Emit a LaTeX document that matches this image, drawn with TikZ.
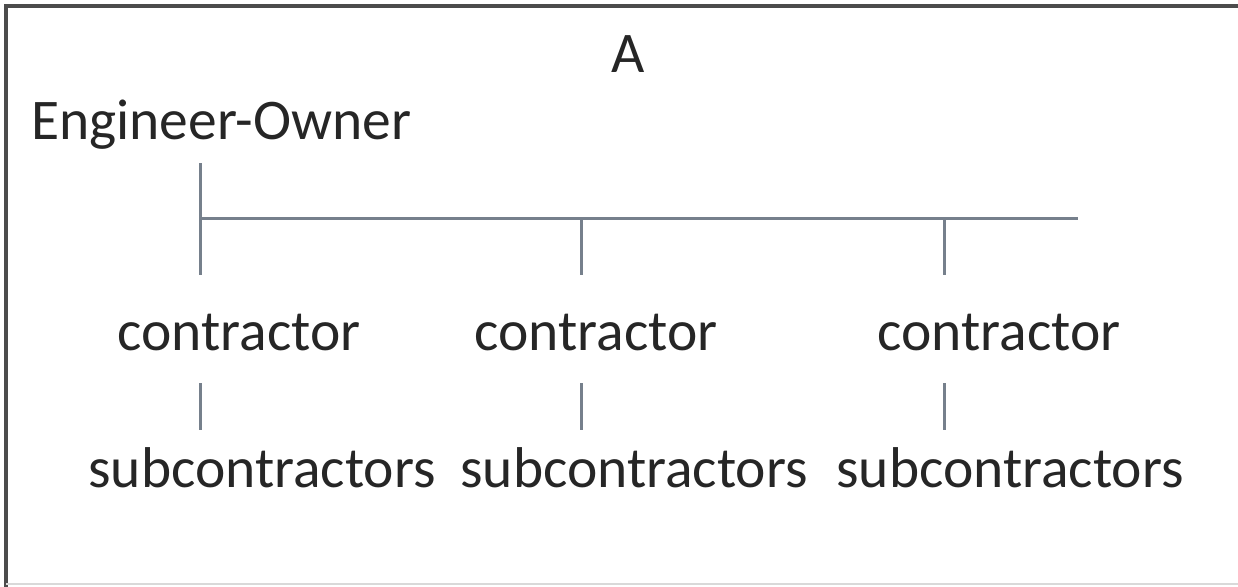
\documentclass[tikz,border=0pt]{standalone}
\usepackage{fontspec}
\setmainfont{Carlito}
\definecolor{linkgray}{RGB}{118,128,140}
\begin{document}
\begin{tikzpicture}[x=1pt,y=-1pt,
  lbl/.style={inner sep=0pt,anchor=base,text=black!85,font=\fontsize{57.5}{62}\selectfont},
  link/.style={draw=linkgray,line width=3pt}]
\useasboundingbox (0,0) rectangle (1238,586);
\draw[black!70,line width=3.5pt] (1245,6) -- (6,6) -- (6,590);
\draw[black!15,line width=2pt] (6,584) -- (1245,584);
% texts
\node[lbl] (A) at (628,72) {A};
\node[lbl,anchor=base west] (eo) at (31,139) {Engineer-Owner};
\node[lbl] (c1) at (239,350) {contractor};
\node[lbl] (c2) at (596,350) {contractor};
\node[lbl] (c3) at (999,350) {contractor};
\node[lbl] (s1) at (262,487) {subcontractors};
\node[lbl] (s2) at (634,487) {subcontractors};
\node[lbl] (s3) at (1010,487) {subcontractors};
% connector points
\coordinate (t0) at (200,163);
\coordinate (j1) at (200,218);
\coordinate (j2) at (581,218);
\coordinate (j3) at (944,218);
\coordinate (hend) at (1078,218);
\coordinate (b1) at (200,275);
\coordinate (b2) at (581,275);
\coordinate (b3) at (944,275);
\coordinate (u1) at (200,383);
\coordinate (u2) at (581,383);
\coordinate (u3) at (944,383);
\coordinate (l1) at (200,430);
\coordinate (l2) at (581,430);
\coordinate (l3) at (944,430);
\draw[link] (t0) -- (b1);
\draw[link] (j1) -- (hend);
\draw[link] (j2) -- (b2);
\draw[link] (j3) -- (b3);
\draw[link] (u1) -- (l1);
\draw[link] (u2) -- (l2);
\draw[link] (u3) -- (l3);
\end{tikzpicture}
\end{document}
